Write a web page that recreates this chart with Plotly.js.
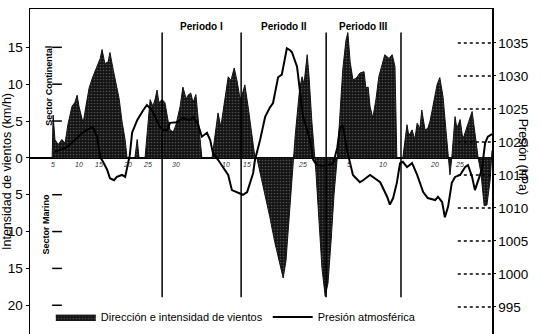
<!DOCTYPE html>
<html>
<head>
<meta charset="utf-8">
<script src="https://cdn.plot.ly/plotly-3.0.1.min.js"></script>
<style>
  html, body { margin: 0; padding: 0; background: #fff; }
  #chart { width: 541px; height: 334px; }
</style>
</head>
<body>
<div id="chart"></div>
<script>
// Wind direction and intensity (km/h): positive = continental sector, negative = marine sector
const windDay = [4.8,5.0,5.4,6.1,6.9,7.6,8.2,9.1,9.7,10.2,10.6,11.0,11.5,12.1,12.8,13.6,14.5,15.2,15.6,16.2,16.9,17.3,18.0,18.6,19.3,19.9,20.6,21.0,22.7,23.2,23.6,24.9,25.5,26.0,26.6,27.1,27.5,27.9,28.6,29.2,29.9,30.3,31.0,31.6,32.5,33.1,33.8,34.2,34.8,35.3,35.9,36.6,37.2,39.4,40.0,40.7,41.3,42.0,42.9,43.5,44.2,44.8,45.5,46.1,46.5,47.2,47.8,48.7,49.1,49.8,50.9,51.9,53.0,54.1,54.8,55.4,56.1,56.7,56.9,57.4,58.0,58.4,58.9,59.3,60.0,60.4,61.0,61.7,61.9,62.6,63.2,63.9,64.5,65.2,65.8,66.5,67.1,67.7,68.4,68.8,69.3,69.9,70.6,71.4,72.3,72.7,73.2,73.6,74.2,74.9,75.5,76.2,76.8,77.7,78.4,79.0,79.4,80.7,81.2,81.6,82.0,82.7,83.3,83.8,84.4,84.8,85.5,86.1,86.6,87.2,87.9,88.1,88.7,89.4,90.0,90.5,90.9,91.3,92.0,92.4,93.1,93.7,94.4,95.0,95.7,96.3,97.0,97.6,98.3,98.9,99.6,100];
const windKmh = [0,5.8,2.5,1.8,2.5,2.0,4.5,7.0,7.5,8.5,7.0,6.0,4.7,7.0,9.5,11.0,12.5,13.5,14.7,12.8,13.0,14.3,12.0,10.0,8.0,5.0,2.4,0,0,2.5,0,0,4.0,7.9,7.0,8.0,9.2,7.5,7.9,7.5,5.0,3.8,3.5,4.5,7.0,9.6,8.0,8.5,8.8,7.5,8.6,4.0,0,0,3.0,6.1,4.2,7.0,11.0,10.5,12.2,10.5,7.9,9.0,9.9,7.0,4.0,0,0,-2,-5,-8,-11.5,-14.5,-16.3,-14,-8,-2,0,3,7,9.5,11,10,14.0,11,5,0,-2,-9,-15,-18.8,-17,-11,-5,0,6,12,16,17.0,13,10.6,10.8,11.5,11.7,9.5,9.6,7,5.4,8,11,12.5,14,13.5,14,12.4,0,0,3,4.5,3,3.8,2.5,4.7,4,6.5,3.8,4,5,7,9,9.9,10.9,8.3,4,0,-2.3,0,5.6,4,5.2,2.5,4,5,6.3,3,0,-2,-6.5,-6.4,-3,1];

// Atmospheric pressure (hPa)
const presDay = [5.4,6.5,8.0,9.7,11.3,12.3,13.6,14.5,15.2,15.8,16.7,17.3,18.2,18.8,19.9,20.6,21.0,21.6,22.1,23.2,24.5,25.3,26.4,27.1,28.1,28.8,29.7,30.3,31.8,33.1,34.6,35.3,36.4,37.2,38.3,39.0,39.6,40.7,41.8,42.9,43.7,44.8,46.1,47.0,47.6,48.3,48.7,49.8,50.9,51.9,52.6,53.7,54.5,55.2,55.6,56.3,56.7,57.8,58.4,59.1,60.0,60.6,61.3,62.1,63.2,64.5,65.6,66.5,67.1,67.7,68.6,69.3,69.9,71.4,72.1,73.6,74.2,75.8,77.3,77.9,78.6,79.4,80.1,80.7,81.6,82.7,83.8,85.1,86.1,87.7,88.3,89.2,89.8,90.5,91.3,92.0,93.1,94.2,94.8,95.7,96.3,97.0,97.8,98.5,99.1,100];
const presHpa = [1018.5,1018.8,1019.2,1020.3,1021.4,1021.8,1022.3,1020.8,1017.7,1017.0,1015.8,1014.5,1014.2,1014.7,1015.0,1014.7,1016.2,1018.0,1021.4,1023.3,1024.8,1025.6,1024.8,1023.8,1022.3,1021.8,1021.8,1022.9,1023.0,1023.6,1023.3,1023.8,1022.6,1020.8,1021.4,1020.3,1018.3,1017.3,1016.2,1015.0,1012.7,1012.4,1012.0,1012.4,1013.8,1015.3,1017.3,1020.3,1023.8,1025.2,1025.9,1029.8,1030.2,1032.9,1034.2,1033.9,1033.6,1031.4,1027.9,1023.8,1021.8,1020.3,1017.3,1016.5,1016.4,1016.5,1016.7,1019.1,1022.1,1022.6,1018.8,1016.5,1015.0,1013.9,1014.2,1015.0,1014.7,1013.9,1011.7,1010.5,1011.5,1013.8,1016.8,1017.0,1016.2,1016.8,1015.0,1012.4,1011.5,1011.2,1011.7,1010.9,1008.6,1010.2,1013.8,1014.7,1015.0,1016.2,1016.5,1014.7,1012.7,1014.2,1015.8,1019.8,1020.8,1021.2];

// Axis ticks
const windTicks = [-20,-15,-10,-5,0,5,10,15];
const windTickText = ['20','15','10','5','0','5','10','15'];
const presTicks = [995,1000,1005,1010,1015,1020,1025,1030,1035];

// Day labels along the zero line
const dayTickPos = [5,10.5,15,21,25.5,31.5,42.5,47,59,69,76.5,87.5,93];
const dayTickText = ['5','10','15','20','25','30','10','15','25','5','10','20','25'];

// Period boundaries and names
const periodBounds = [28.6,45.7,64.1,80.3];
const periodNames = ['Periodo I','Periodo II','Periodo III'];

const FONT = 'Liberation Sans, Arial, sans-serif';

const traces = [
  {
    x: windDay, y: windKmh, type: 'scatter', mode: 'lines',
    name: 'Dirección e intensidad de vientos',
    fill: 'tozeroy',
    fillcolor: '#121212',
    fillpattern: {shape: '.', bgcolor: '#121212', fgcolor: '#4e4e4e', size: 3, solidity: 0.25},
    line: {color: '#111', width: 1},
    yaxis: 'y'
  },
  {
    x: presDay, y: presHpa, type: 'scatter', mode: 'lines',
    name: 'Presión atmosférica',
    line: {color: '#000', width: 2},
    yaxis: 'y2'
  }
];

const shapes = [];
// period separators
periodBounds.forEach(d => shapes.push({
  type: 'line', xref: 'x', yref: 'y', x0: d, x1: d, y0: -18.9, y1: 17.0,
  line: {color: '#000', width: 1.5}
}));
// inner dashes beside the wind scale
windTicks.filter(v => v !== 0).forEach(v => shapes.push({
  type: 'line', xref: 'paper', yref: 'y', x0: 0.048, x1: 0.069, y0: v, y1: v,
  line: {color: '#000', width: 1.5}
}));
// dotted leaders beside the pressure scale
presTicks.forEach(v => shapes.push({
  type: 'line', xref: 'paper', yref: 'y2', x0: 0.926, x1: 1, y0: v, y1: v,
  line: {color: '#000', width: 1.5, dash: 'dot'}
}));

const annotations = [];
periodNames.forEach((t, i) => annotations.push({
  text: '<b>' + t + '</b>', xref: 'x', yref: 'paper',
  x: (periodBounds[i] + periodBounds[i + 1]) / 2, y: 0.969,
  showarrow: false, font: {family: FONT, size: 10, color: '#000'}
}));
dayTickPos.forEach((d, i) => annotations.push({
  text: '<i>' + dayTickText[i] + '</i>', xref: 'x', yref: 'y', x: d, y: -0.2,
  yanchor: 'top', showarrow: false, font: {family: FONT, size: 7, color: '#333'}
}));
annotations.push(
  {text: '<b>Sector Continental</b>', xref: 'paper', yref: 'y', x: 0.026, y: 9.8,
   textangle: -90, showarrow: false, font: {family: FONT, size: 9, color: '#000'}},
  {text: '<b>Sector Marino</b>', xref: 'paper', yref: 'y', x: 0.02, y: -9.0,
   textangle: -90, showarrow: false, font: {family: FONT, size: 9, color: '#000'}},
  {text: 'Presión (hPa)', xref: 'paper', yref: 'paper', x: 1.087, y: 0.545,
   textangle: 90, showarrow: false, font: {family: FONT, size: 12.5, color: '#000'}}
);

const layout = {
  width: 541, height: 334,
  margin: {l: 30, r: 49, t: 9, b: 0, autoexpand: false},
  paper_bgcolor: '#fff', plot_bgcolor: '#fff',
  font: {family: FONT, color: '#000'},
  showlegend: true,
  legend: {
    orientation: 'h', x: 0.045, y: 0.052, xanchor: 'left', yanchor: 'middle',
    font: {family: FONT, size: 11, color: '#000'}, bgcolor: 'rgba(0,0,0,0)',
    itemwidth: 40, tracegroupgap: 0
  },
  xaxis: {
    range: [0, 100], side: 'top', showline: true, linecolor: '#000', linewidth: 1.5,
    showgrid: false, zeroline: false, showticklabels: false, ticks: '', automargin: false
  },
  yaxis: {
    range: [-23.9, 20.2], tickvals: windTicks, ticktext: windTickText,
    ticks: 'outside', ticklen: 3, tickcolor: '#000', automargin: false,
    showline: true, linecolor: '#000', linewidth: 1.5,
    showgrid: false, zeroline: true, zerolinecolor: '#000', zerolinewidth: 2,
    tickfont: {family: FONT, size: 13.5, color: '#000'},
    title: {text: 'Intensidad de vientos (km/h)', font: {family: FONT, size: 12.5, color: '#000'}, standoff: 2}
  },
  yaxis2: {
    range: [990.9, 1040.15], overlaying: 'y', side: 'right', tickvals: presTicks,
    ticks: 'outside', ticklen: 2, tickcolor: '#000', automargin: false,
    showline: true, linecolor: '#000', linewidth: 1.5,
    showgrid: false, zeroline: false,
    tickfont: {family: FONT, size: 13.5, color: '#000'}
  },
  shapes: shapes,
  annotations: annotations
};

Plotly.newPlot('chart', traces, layout, {staticPlot: true, displayModeBar: false});
</script>
</body>
</html>
